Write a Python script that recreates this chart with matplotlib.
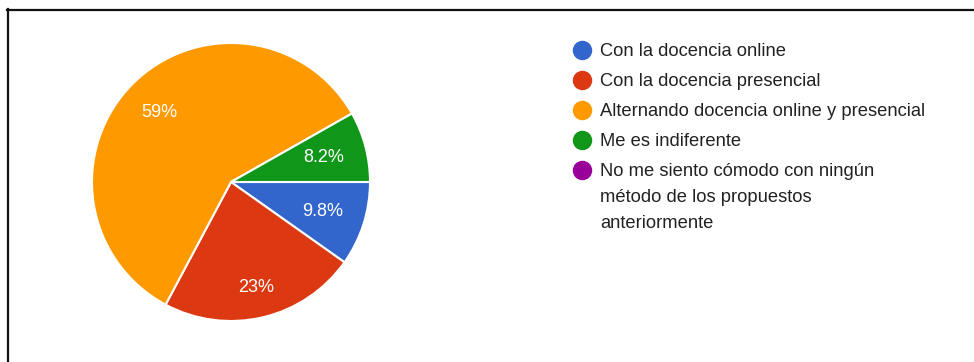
import numpy as np
import matplotlib.pyplot as plt
from matplotlib.lines import Line2D

plt.rcParams["font.family"] = ["Liberation Sans", "DejaVu Sans"]

labels = [
    "Con la docencia online",
    "Con la docencia presencial",
    "Alternando docencia online y presencial",
    "Me es indiferente",
    "No me siento cómodo con ningún\nmétodo de los propuestos\nanteriormente",
]
shares = [9.8, 23, 59, 8.2, 0]
colors = ["#3366cc", "#dc3912", "#ff9900", "#109618", "#990099"]
# how far out (fraction of radius) each percentage label sits
label_radius = [0.69, 0.78, 0.72, 0.69]

W, H = 974, 362
fig = plt.figure(figsize=(W / 100, H / 100), dpi=100)


def fx(px):
    return px / W


def fy(py):
    return 1 - py / H


# pie area: centre (231, 182) px, radius 139 px
cx, cy, r = 231, 182, 139
ax = fig.add_axes([(cx - r) / W, (H - cy - r) / H, 2 * r / W, 2 * r / H])

vals = [v for v in shares if v > 0]
cols = [c for v, c in zip(shares, colors) if v > 0]
wedges, texts, autotexts = ax.pie(
    vals,
    colors=cols,
    startangle=0,
    counterclock=False,
    radius=1,
    autopct=lambda p: f"{p:.2g}%",
    wedgeprops=dict(edgecolor="white", linewidth=1.5),
    textprops=dict(color="white", fontsize=13),
)
for w, t, lr in zip(wedges, autotexts, label_radius):
    mid = np.deg2rad((w.theta1 + w.theta2) / 2)
    t.set_position((lr * np.cos(mid), lr * np.sin(mid)))
ax.set_xlim(-1, 1)
ax.set_ylim(-1, 1)
ax.set_aspect("equal")
ax.axis("off")

# legend: one row every 30 px, wrapped lines 25 px apart
row0, row_step, line_step = 50, 30, 25.5
for i, (lab, c) in enumerate(zip(labels, colors)):
    y = row0 + row_step * i
    fig.add_artist(Line2D([fx(582)], [fy(y)], transform=fig.transFigure,
                          marker="o", markersize=13, linestyle="none",
                          markerfacecolor=c, markeredgecolor=c))
    for j, line in enumerate(lab.split("\n")):
        fig.text(fx(600), fy(y + line_step * j), line, fontsize=13.25,
                 color="#222222", va="center_baseline", ha="left")

# frame lines along top and left edges
fig.add_artist(Line2D([fx(7), 1], [fy(9.5), fy(9.5)],
                      transform=fig.transFigure, color="#111111", linewidth=1.6))
fig.add_artist(Line2D([fx(7.5), fx(7.5)], [0, fy(9)],
                      transform=fig.transFigure, color="#111111", linewidth=1.6))

fig.savefig("out.png", dpi=100)
